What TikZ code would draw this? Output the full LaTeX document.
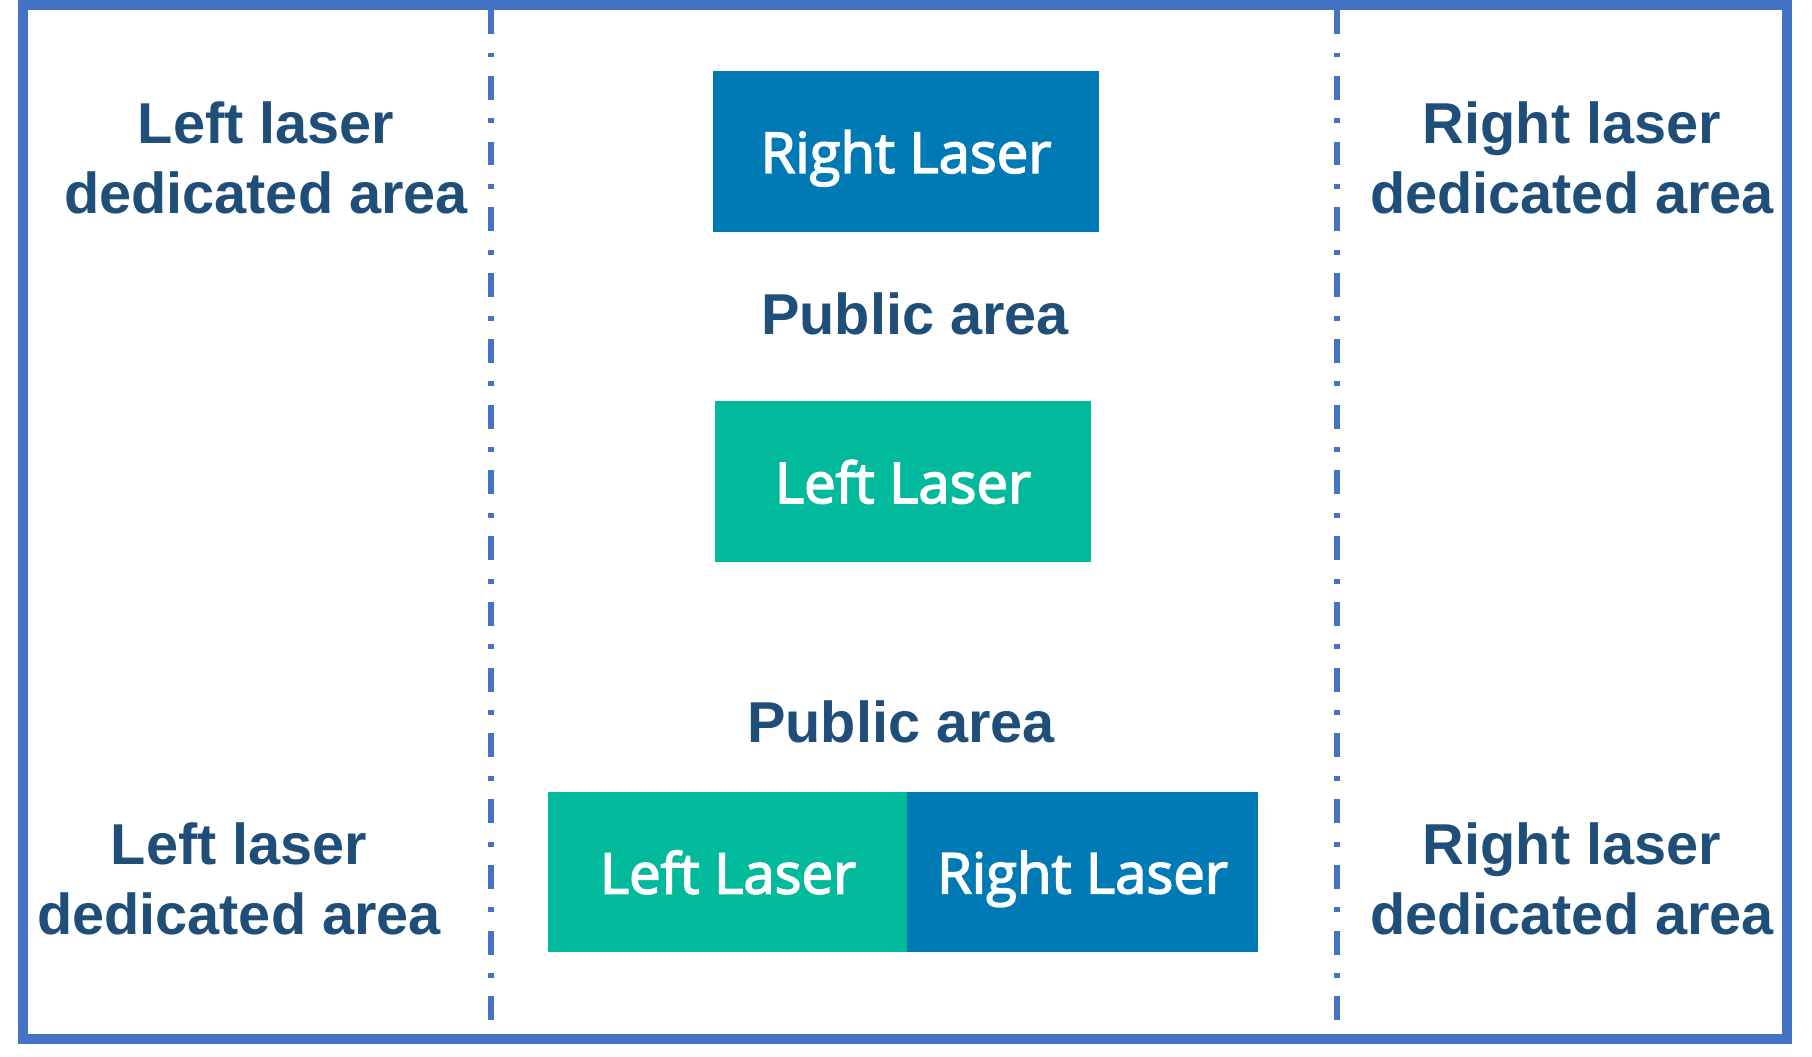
\documentclass[tikz,border=0pt]{standalone}
\usepackage{fontspec}
\usepackage{xcolor}
\usetikzlibrary{positioning}
\setmainfont{Liberation Sans}
\newfontfamily\laserfont{Open Sans}[FakeBold=2.8]

\definecolor{framecol}{HTML}{4472C4}
\definecolor{labelcol}{HTML}{1F4E79}
\definecolor{rightcol}{HTML}{007AB5}
\definecolor{leftcol}{HTML}{00BA9B}

\tikzset{
    area/.style={align=center, text=labelcol, font=\fontsize{16.4}{19.9}\selectfont\bfseries},
    laserbox/.style={rectangle, inner sep=0pt, text=white, text depth=0pt, font=\fontsize{16}{19}\selectfont\laserfont, minimum height=1.6cm},
    divider/.style={framecol, line width=1.7pt, dash pattern=on 6.8pt off 5.3pt on 1.4pt off 5.2pt}
}

\begin{document}
\begin{tikzpicture}[x=0.01cm, y=-0.01cm]
    \useasboundingbox (0,0) rectangle (1812,1056);

    % frame and dividers
    \draw[framecol, line width=2.6pt] (23,5) rectangle (1787,1039);
    \draw[divider] (491,10) -- (491,1022);
    \draw[divider] (1337,10) -- (1337,1056);

    % lasers
    \node[laserbox, fill=rightcol, minimum width=3.86cm] (rtop) at (906,151.5) {Right Laser};
    \node[laserbox, fill=leftcol, minimum width=3.76cm] (lmid) at (903,481.5) {Left Laser};
    \node[laserbox, fill=leftcol, minimum width=3.6cm] (lbot) at (728,872) {Left Laser};
    \node[laserbox, fill=rightcol, minimum width=3.5cm, right=-0.6pt of lbot] (rbot) {Right Laser};

    % areas
    \node[area] (pubtop) at (915,314) {Public area};
    \node[area] (pubbot) at (901,722) {Public area};
    \node[area] (ltop) at (266,158) {Left laser\\dedicated area};
    \node[area] (lbotarea) at (239,879) {Left laser\\dedicated area};
    \node[area] (rtoparea) at (1572,158) {Right laser\\dedicated area};
    \node[area] (rbotarea) at (1572,879) {Right laser\\dedicated area};
\end{tikzpicture}
\end{document}
